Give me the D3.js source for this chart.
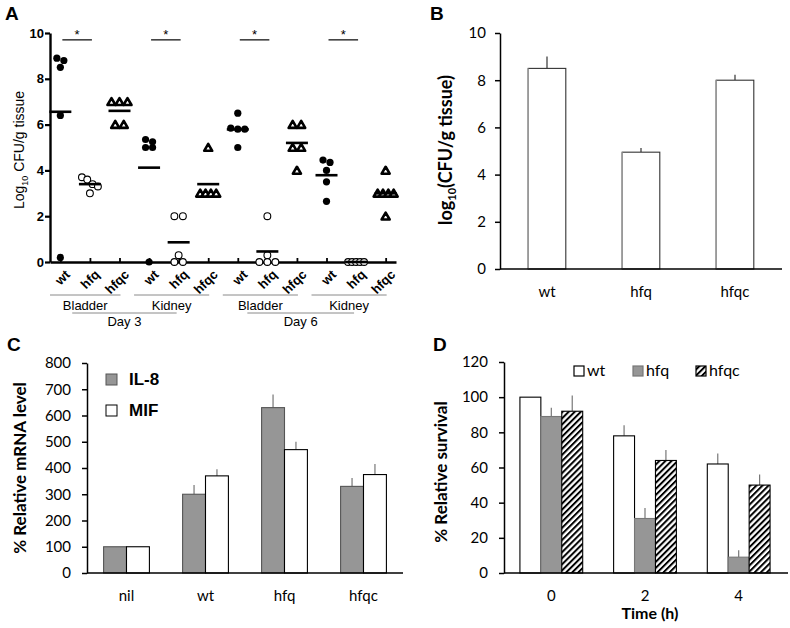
<!DOCTYPE html>
<html><head><meta charset="utf-8">
<script src="https://cdn.jsdelivr.net/npm/d3@7"></script>
<style>body{margin:0;background:#fff}</style>
</head><body>
<svg id="c" width="790" height="628" xmlns="http://www.w3.org/2000/svg"></svg>
<script>
// ---------- Panel A data ----------
const strainsA = ["wt","hfq","hfqc","wt","hfq","hfqc","wt","hfq","hfqc","wt","hfq","hfqc"];
const organsA = ["Bladder","Kidney","Bladder","Kidney"];
const daysA = ["Day 3","Day 6"];
const valuesA = [
  [8.9,8.8,8.5,6.4,0.2],
  [3.7,3.6,3.4,3.3,3.0],
  [7,7,7,6,6],
  [5.35,5.25,5.0,5.0,0],
  [2,2,0.3,0,0],
  [5,3,3,3,3],
  [6.5,5.85,5.8,5.8,5.0],
  [2,0.3,0,0,0],
  [6,6,5,5,4],
  [4.45,4.35,4.0,3.5,2.65],
  [0,0,0,0,0],
  [4,3,3,3,3,2]
];
const sigPairsA = [[0,1],[3,4],[6,7],[9,10]];
const ticksA = [0,2,4,6,8,10];

// ---------- Panel B data ----------
const catsB = ["wt","hfq","hfqc"];
const valsB = [8.5,4.95,8.0];
const errB = [0.5,0.18,0.23];
const ticksB = [0,2,4,6,8,10];

// ---------- Panel C data ----------
const catsC = ["nil","wt","hfq","hfqc"];
const seriesC = ["IL-8","MIF"];
const il8C = [100,300,630,330];
const il8ErrC = [0,35,50,32];
const mifC = [100,370,470,375];
const mifErrC = [0,25,30,40];
const ticksC = [0,100,200,300,400,500,600,700,800];

// ---------- Panel D data ----------
const catsD = ["0","2","4"];
const seriesD = ["wt","hfq","hfqc"];
const wtD = [100,78,62];
const wtErrD = [0,6,6];
const hfqD = [89,31,9];
const hfqErrD = [5,6,4];
const hfqcD = [92,64,50];
const hfqcErrD = [9,6,6];
const ticksD = [0,20,40,60,80,100,120];

const svg = d3.select("#c");
const ARIAL = "'Liberation Sans', Arial, sans-serif";
const CAL = "Lato, 'Open Sans', sans-serif";

const defs = svg.append("defs");
const pat = defs.append("pattern").attr("id","hatch").attr("patternUnits","userSpaceOnUse")
  .attr("width",4.3).attr("height",4.3).attr("patternTransform","rotate(45)");
pat.append("rect").attr("width",4.3).attr("height",4.3).attr("fill","#fff");
pat.append("rect").attr("width",2).attr("height",4.3).attr("fill","#000");

function label(g, x, y, txt, opts) {
  return g.append("text").attr("x",x).attr("y",y).text(txt)
    .attr("font-family",opts.ff||CAL).attr("font-size",opts.fs||15)
    .attr("font-weight",opts.fw||"normal").attr("text-anchor",opts.ta||"middle")
    .attr("fill","#000");
}

// ================= Panel A =================
{
  const g = svg.append("g");
  const x = d3.scalePoint().domain(d3.range(strainsA.length)).range([50,396]).padding(0.35);
  const y = d3.scaleLinear().domain([0,10]).range([262,33]);

  const ya = g.append("g").attr("transform","translate(50,0)")
    .call(d3.axisLeft(y).tickValues(ticksA).tickSize(5).tickSizeOuter(0).tickPadding(1));
  ya.select(".domain").attr("stroke-width",2.4);
  ya.selectAll(".tick line").attr("stroke-width",2.2);
  ya.selectAll(".tick text").attr("font-family",ARIAL).attr("font-size",13).attr("font-weight","bold").attr("fill","#000");

  const xa = g.append("g").attr("transform","translate(0,262)")
    .call(d3.axisBottom(x).tickSize(-4).tickSizeOuter(0).tickFormat(""));
  xa.select(".domain").attr("stroke-width",2.6);
  xa.selectAll(".tick line").attr("stroke-width",1.8);

  strainsA.forEach((s,i) => {
    g.append("text").text(s)
      .attr("transform",`translate(${x(i)+4},${269}) rotate(-45)`)
      .attr("text-anchor","end").attr("dy","0.7em")
      .attr("font-family",ARIAL).attr("font-size",13).attr("font-weight","bold");
  });

  organsA.forEach((o,k) => {
    const x0 = Math.max(50, x(k*3)-15), x1 = x(k*3+2)+1;
    g.append("line").attr("x1",x0).attr("x2",x1).attr("y1",295).attr("y2",295)
      .attr("stroke","#8a8a8a").attr("stroke-width",1);
    label(g,(x0+x1)/2,310,o,{ff:ARIAL,fs:13});
  });
  daysA.forEach((d,k) => {
    const c0 = (Math.max(50,x(k*6)-15)+x(k*6+2)+1)/2;
    const c1 = (x(k*6+3)-15 + x(k*6+5)+1)/2;
    const x0 = c0-13, x1 = c1+5;
    g.append("line").attr("x1",x0).attr("x2",x1).attr("y1",313).attr("y2",313)
      .attr("stroke","#8a8a8a").attr("stroke-width",1);
    label(g,(x0+x1)/2,326,d,{ff:ARIAL,fs:13});
  });

  valuesA.forEach((vals,i) => {
    const type = i % 3;
    const sorted = vals.slice().sort((a,b)=>b-a);
    const clusters = [];
    sorted.forEach(v => {
      const last = clusters[clusters.length-1];
      if (last && Math.abs(y(v) - y(last[last.length-1])) < 5) last.push(v);
      else clusters.push([v]);
    });
    clusters.forEach(cl => {
      const k = cl.length;
      const d = type===0 ? 7 : Math.min(8.5, k>1 ? 16/(k-1) : 8.5);
      cl.forEach((v,j) => {
        const cx = x(i) + (j-(k-1)/2)*d, cy = y(v);
        if (type===0) g.append("circle").attr("cx",cx).attr("cy",cy).attr("r",3.6).attr("fill","#000");
        else if (type===1) g.append("circle").attr("cx",cx).attr("cy",cy).attr("r",3.4).attr("fill","#fff").attr("stroke","#000").attr("stroke-width",1.1);
        else g.append("path").attr("d",d3.symbol(d3.symbolTriangle,28)()).attr("transform",`translate(${cx},${cy+1})`).attr("fill","#fff").attr("stroke","#000").attr("stroke-width",2.6).attr("stroke-linejoin","round");
      });
    });
    const m = d3.mean(vals);
    g.append("line").attr("x1",x(i)-11).attr("x2",x(i)+11).attr("y1",y(m)).attr("y2",y(m))
      .attr("stroke","#000").attr("stroke-width",2.6);
  });

  sigPairsA.forEach(([a,b]) => {
    g.append("line").attr("x1",x(a)+2).attr("x2",x(b)+2).attr("y1",y(9.7)).attr("y2",y(9.7))
      .attr("stroke","#000").attr("stroke-width",1.2);
    label(g,(x(a)+x(b))/2+2,y(9.7)-1,"*",{ff:ARIAL,fs:13});
  });

  const t = g.append("text").attr("transform","translate(24,150) rotate(-90)")
    .attr("text-anchor","middle").attr("font-family",ARIAL).attr("font-size",14);
  t.append("tspan").text("Log");
  t.append("tspan").text("10").attr("font-size",9).attr("dy",4);
  t.append("tspan").text(" CFU/g tissue").attr("dy",-4);

  label(g,5,20,"A",{ff:ARIAL,fs:19,fw:"bold",ta:"start"});
}

// ================= Panel B =================
{
  const g = svg.append("g");
  const x = d3.scaleBand().domain(catsB).range([500,782]).paddingInner(0.6).paddingOuter(0.3);
  const y = d3.scaleLinear().domain([0,10]).range([269,33]);
  const ya = g.append("g").attr("transform","translate(500,0)")
    .call(d3.axisLeft(y).tickValues(ticksB).tickSize(5).tickSizeOuter(0).tickPadding(9));
  ya.select(".domain").attr("stroke-width",1.5);
  ya.selectAll(".tick line").attr("stroke-width",1.5);
  ya.selectAll(".tick text").attr("font-family",CAL).attr("font-size",15).attr("fill","#000");

  catsB.forEach((c,i) => {
    const x0 = x(c), bw = x.bandwidth();
    g.append("line").attr("x1",x0+bw/2).attr("x2",x0+bw/2).attr("y1",y(valsB[i])).attr("y2",y(valsB[i]+errB[i]))
      .attr("stroke","#333").attr("stroke-width",1.2);
    g.append("rect").attr("x",x0).attr("y",y(valsB[i])).attr("width",bw).attr("height",y(0)-y(valsB[i]))
      .attr("fill","#fff").attr("stroke","#333").attr("stroke-width",1.1);
    g.append("line").attr("x1",x0).attr("x2",x0).attr("y1",y(valsB[i])).attr("y2",y(0))
      .attr("stroke","#999").attr("stroke-width",1.6);
    label(g,x0+bw/2,297,c,{fs:15});
  });
  g.append("line").attr("x1",500).attr("x2",782).attr("y1",y(0)).attr("y2",y(0)).attr("stroke","#000").attr("stroke-width",1.6);

  const t = g.append("text").attr("transform","translate(452,150) rotate(-90)")
    .attr("text-anchor","middle").attr("font-family",CAL).attr("font-size",18).attr("font-weight","bold");
  t.append("tspan").text("log");
  t.append("tspan").text("10").attr("font-size",11).attr("dy",4);
  t.append("tspan").text("(CFU/g tissue)").attr("dy",-4);

  label(g,430,20,"B",{ff:ARIAL,fs:19,fw:"bold",ta:"start"});
}

// ================= Panel C =================
{
  const g = svg.append("g");
  const x = d3.scaleBand().domain(catsC).range([87,403]).paddingInner(0.42).paddingOuter(0.21);
  const xs = d3.scaleBand().domain(seriesC).range([0,x.bandwidth()]);
  const y = d3.scaleLinear().domain([0,800]).range([573,363]);
  const ya = g.append("g").attr("transform","translate(87,0)")
    .call(d3.axisLeft(y).tickValues(ticksC).tickSize(5).tickSizeOuter(0).tickPadding(11));
  ya.select(".domain").attr("stroke-width",1.5);
  ya.selectAll(".tick line").attr("stroke-width",1.5);
  ya.selectAll(".tick text").attr("font-family",CAL).attr("font-size",15).attr("fill","#000");

  const vals = [il8C, mifC], errs = [il8ErrC, mifErrC];
  const fills = ["#969696","#fff"], strokes = ["#555","#000"];
  catsC.forEach((c,i) => {
    seriesC.forEach((s,j) => {
      const x0 = x(c)+xs(s), bw = xs.bandwidth(), v = vals[j][i], e = errs[j][i];
      if (e>0) g.append("line").attr("x1",x0+bw/2).attr("x2",x0+bw/2).attr("y1",y(v)).attr("y2",y(v+e))
        .attr("stroke","#777").attr("stroke-width",1.2);
      g.append("rect").attr("x",x0).attr("y",y(v)).attr("width",bw).attr("height",y(0)-y(v))
        .attr("fill",fills[j]).attr("stroke",strokes[j]).attr("stroke-width",1.1);
    });
    label(g,x(c)+x.bandwidth()/2,601,c,{fs:15});
  });
  g.append("line").attr("x1",87).attr("x2",403).attr("y1",y(0)).attr("y2",y(0)).attr("stroke","#000").attr("stroke-width",1.6);

  seriesC.forEach((s,j) => {
    g.append("rect").attr("x",106).attr("y",374+j*31).attr("width",11).attr("height",11)
      .attr("fill",fills[j]).attr("stroke",strokes[j]).attr("stroke-width",1);
    label(g,129,385+j*31,s,{ff:ARIAL,fs:17,fw:"bold",ta:"start"});
  });

  g.append("text").attr("transform","translate(26,468) rotate(-90)").attr("text-anchor","middle")
    .attr("font-family",CAL).attr("font-size",17).attr("font-weight","bold").text("% Relative mRNA level");

  label(g,7,351,"C",{ff:ARIAL,fs:19,fw:"bold",ta:"start"});
}

// ================= Panel D =================
{
  const g = svg.append("g");
  const x = d3.scaleBand().domain(catsD).range([504,786]).paddingInner(0.33).paddingOuter(0.17);
  const xs = d3.scaleBand().domain(seriesD).range([0,x.bandwidth()]);
  const y = d3.scaleLinear().domain([0,120]).range([573,362]);
  const ya = g.append("g").attr("transform","translate(504,0)")
    .call(d3.axisLeft(y).tickValues(ticksD).tickSize(5).tickSizeOuter(0).tickPadding(11));
  ya.select(".domain").attr("stroke-width",1.5);
  ya.selectAll(".tick line").attr("stroke-width",1.5);
  ya.selectAll(".tick text").attr("font-family",CAL).attr("font-size",15).attr("fill","#000");

  const vals = [wtD, hfqD, hfqcD], errs = [wtErrD, hfqErrD, hfqcErrD];
  const fills = ["#fff","#969696","url(#hatch)"], strokes = ["#000","#777","#000"];
  catsD.forEach((c,i) => {
    seriesD.forEach((s,j) => {
      const x0 = x(c)+xs(s), bw = xs.bandwidth(), v = vals[j][i], e = errs[j][i];
      if (e>0) g.append("line").attr("x1",x0+bw/2).attr("x2",x0+bw/2).attr("y1",y(v)).attr("y2",y(v+e))
        .attr("stroke","#777").attr("stroke-width",1.2);
      g.append("rect").attr("x",x0).attr("y",y(v)).attr("width",bw).attr("height",y(0)-y(v))
        .attr("fill",fills[j]).attr("stroke",strokes[j]).attr("stroke-width",1.1);
    });
    label(g,x(c)+x.bandwidth()/2,601,c,{fs:15});
  });
  g.append("line").attr("x1",504).attr("x2",788).attr("y1",y(0)).attr("y2",y(0)).attr("stroke","#000").attr("stroke-width",1.6);

  const legX = [574,633,696];
  seriesD.forEach((s,j) => {
    g.append("rect").attr("x",legX[j]).attr("y",366).attr("width",10).attr("height",10)
      .attr("fill",fills[j]).attr("stroke",strokes[j]==="#777"?"#777":"#000").attr("stroke-width",1.2);
    label(g,legX[j]+13,376,s,{fs:16,ta:"start"});
  });

  g.append("text").attr("transform","translate(447,472) rotate(-90)").attr("text-anchor","middle")
    .attr("font-family",CAL).attr("font-size",17).attr("font-weight","bold").text("% Relative survival");
  label(g,650,619,"Time (h)",{fs:16,fw:"bold"});

  label(g,433,351,"D",{ff:ARIAL,fs:19,fw:"bold",ta:"start"});
}
</script>
</body></html>
